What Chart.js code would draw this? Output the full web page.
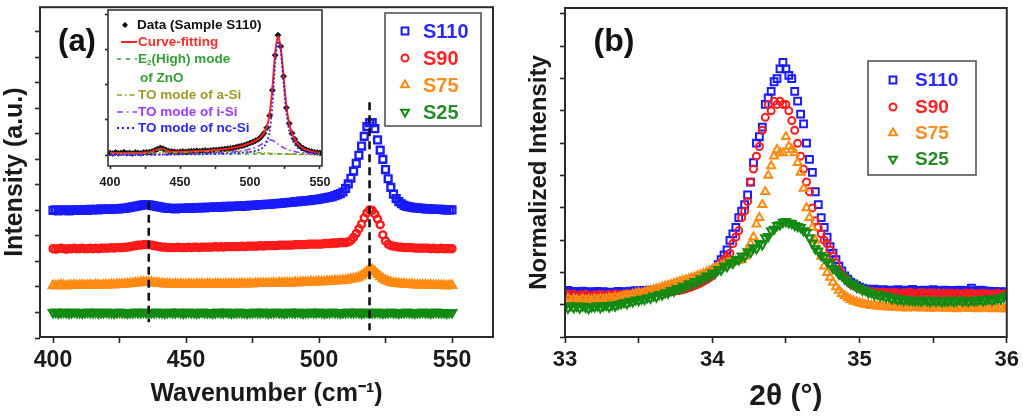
<!DOCTYPE html>
<html><head><meta charset="utf-8">
<script src="https://cdn.jsdelivr.net/npm/chart.js@4.4.1/dist/chart.umd.min.js"></script>
<style>
html,body{margin:0;padding:0;background:#fff;width:1023px;height:417px;overflow:hidden}
canvas{position:absolute;left:0;top:0}
</style></head><body>
<canvas id="ca" width="1023" height="417"></canvas>
<canvas id="ci" width="1023" height="417"></canvas>
<canvas id="cb" width="1023" height="417"></canvas>
<script>
// ---------- Panel (a): Raman spectra ----------
const ramanX = [
400,401,402,403,404,405,406,407,408,409,
410,411,412,413,414,415,416,417,418,419,
420,421,422,423,424,425,426,427,428,429,
430,431,432,433,434,435,436,437,438,439,
440,441,442,443,444,445,446,447,448,449,
450,451,452,453,454,455,456,457,458,459,
460,461,462,463,464,465,466,467,468,469,
470,471,472,473,474,475,476,477,478,479,
480,481,482,483,484,485,486,487,488,489,
490,491,492,493,494,495,496,497,498,499,
500,501,502,503,504,505,506,507,508,509,
510,511,512,513,514,515,516,517,518,519,
520,521,522,523,524,525,526,527,528,529,
530,531,532,533,534,535,536,537,538,539,
540,541,542,543,544,545,546,547,548,549,
550];
const ramanS110 = [
2.00,2.01,1.99,2.00,2.01,2.00,1.99,2.01,2.00,2.01,
2.00,2.01,2.01,2.00,2.02,2.01,2.02,2.01,2.03,2.02,
2.02,2.03,2.02,2.03,2.03,2.03,2.04,2.04,2.05,2.06,
2.07,2.08,2.09,2.10,2.11,2.11,2.11,2.10,2.09,2.08,
2.07,2.06,2.05,2.04,2.04,2.04,2.03,2.04,2.04,2.04,
2.04,2.05,2.04,2.05,2.05,2.05,2.06,2.05,2.06,2.06,
2.06,2.07,2.06,2.07,2.07,2.08,2.07,2.08,2.08,2.08,
2.09,2.08,2.09,2.09,2.10,2.10,2.10,2.11,2.11,2.11,
2.12,2.12,2.12,2.13,2.13,2.14,2.14,2.15,2.15,2.16,
2.16,2.17,2.17,2.18,2.18,2.19,2.19,2.20,2.21,2.21,
2.22,2.23,2.24,2.25,2.26,2.27,2.29,2.31,2.33,2.36,
2.43,2.52,2.63,2.77,2.92,3.08,3.26,3.45,3.64,3.72,
3.72,3.60,3.38,3.18,3.00,2.80,2.62,2.45,2.32,2.23,
2.17,2.13,2.10,2.08,2.07,2.06,2.05,2.05,2.04,2.04,
2.03,2.03,2.03,2.02,2.02,2.02,2.02,2.01,2.01,2.01,
2.01];
const ramanS90 = [
1.25,1.24,1.25,1.26,1.25,1.24,1.25,1.25,1.26,1.25,
1.25,1.26,1.25,1.25,1.26,1.25,1.26,1.25,1.26,1.26,
1.26,1.26,1.27,1.26,1.27,1.27,1.27,1.28,1.28,1.29,
1.30,1.31,1.32,1.32,1.33,1.33,1.33,1.32,1.31,1.30,
1.29,1.28,1.28,1.27,1.27,1.27,1.27,1.28,1.27,1.27,
1.27,1.28,1.27,1.28,1.28,1.27,1.28,1.28,1.28,1.28,
1.28,1.29,1.28,1.29,1.28,1.29,1.29,1.29,1.29,1.29,
1.29,1.30,1.29,1.30,1.30,1.30,1.30,1.30,1.31,1.30,
1.31,1.31,1.31,1.31,1.31,1.32,1.32,1.32,1.32,1.32,
1.32,1.33,1.33,1.33,1.33,1.33,1.34,1.34,1.34,1.34,
1.34,1.34,1.35,1.35,1.35,1.36,1.36,1.36,1.37,1.37,
1.37,1.38,1.41,1.47,1.55,1.64,1.73,1.85,1.95,2.01,
2.00,1.93,1.83,1.72,1.52,1.40,1.34,1.31,1.30,1.29,
1.28,1.28,1.27,1.27,1.27,1.27,1.26,1.26,1.26,1.26,
1.26,1.26,1.25,1.26,1.25,1.25,1.26,1.25,1.25,1.25,
1.25];
const ramanS75 = [
0.53,0.52,0.53,0.54,0.53,0.52,0.53,0.53,0.54,0.53,
0.53,0.54,0.53,0.53,0.54,0.53,0.54,0.54,0.53,0.54,
0.54,0.54,0.55,0.54,0.55,0.55,0.55,0.56,0.56,0.57,
0.57,0.58,0.58,0.59,0.59,0.59,0.59,0.59,0.58,0.58,
0.57,0.57,0.56,0.56,0.56,0.55,0.56,0.55,0.56,0.55,
0.55,0.56,0.55,0.55,0.56,0.55,0.56,0.55,0.56,0.56,
0.55,0.56,0.56,0.56,0.55,0.56,0.56,0.56,0.56,0.56,
0.56,0.57,0.56,0.56,0.57,0.56,0.57,0.57,0.57,0.57,
0.57,0.57,0.57,0.58,0.57,0.58,0.58,0.58,0.58,0.58,
0.58,0.59,0.58,0.59,0.59,0.59,0.59,0.60,0.59,0.60,
0.60,0.60,0.60,0.61,0.61,0.61,0.62,0.62,0.62,0.63,
0.63,0.64,0.65,0.66,0.67,0.69,0.72,0.76,0.80,0.84,
0.84,0.80,0.75,0.70,0.66,0.63,0.61,0.59,0.58,0.57,
0.57,0.56,0.56,0.55,0.55,0.55,0.54,0.54,0.54,0.54,
0.54,0.53,0.54,0.53,0.53,0.53,0.53,0.53,0.52,0.53,
0.53];
const ramanS25 = [
0.00,0.01,-0.01,0.00,0.01,0.00,-0.01,0.00,0.01,0.00,
0.00,-0.01,0.00,0.01,0.00,0.00,0.01,-0.01,0.00,0.00,
0.01,0.00,0.00,-0.01,0.00,0.01,0.00,0.00,-0.01,0.00,
0.00,0.01,0.00,0.00,0.01,0.00,-0.01,0.00,0.00,0.01,
0.00,0.00,-0.01,0.00,0.01,0.00,0.00,0.01,0.00,-0.01,
0.00,0.01,0.00,0.00,-0.01,0.00,0.01,0.00,0.00,0.00,
-0.01,0.00,0.01,0.00,0.00,0.01,0.00,-0.01,0.00,0.00,
0.01,0.00,0.00,-0.01,0.00,0.00,0.01,0.00,0.00,0.01,
0.00,-0.01,0.00,0.00,0.01,0.00,0.00,-0.01,0.00,0.01,
0.00,0.00,0.01,0.00,-0.01,0.00,0.00,0.01,0.00,0.00,
0.01,0.00,-0.01,0.00,0.00,0.01,0.00,0.00,-0.01,0.00,
0.00,0.01,0.00,0.00,0.01,0.00,-0.01,0.00,0.01,0.00,
0.00,0.00,0.01,0.00,-0.01,0.00,0.00,0.01,0.00,0.00,
-0.01,0.00,0.00,0.01,0.00,0.00,-0.01,0.00,0.00,0.01,
0.00,0.00,-0.01,0.00,0.01,0.00,0.00,0.00,-0.01,0.00,
0.00];
// dashed guide lines (wavenumber, top, bottom)
const guideX = [436, 519];
const guideTop = [2.17, 4.12];
const guideBottom = [-0.19, -0.35];
const ramanTickValues = [400,425,450,475,500,525,550];
const ramanTickLabels = ['400','','450','','500','','550'];
const ramanYTicks = [-0.5,0,0.5,1,1.5,2,2.5,3,3.5,4,4.5,5,5.5];

// ---------- Inset: S110 fitting ----------
const insetX = [
400,402,404,406,408,410,412,414,416,418,
420,422,424,426,428,430,432,434,436,438,
440,442,444,446,448,450,452,454,456,458,
460,462,464,466,468,470,472,474,476,478,
480,482,484,486,488,490,492,494,496,498,
500,502,504,506,508,510,512,514,516,518,
520,522,524,526,528,530,532,534,536,538,
540,542,544,546,548,550];
const insetData = [
.06,.04,.07,.05,.06,.08,.05,.06,.04,.07,
.06,.05,.07,.08,.08,.10,.13,.17,.20,.18,
.14,.11,.10,.09,.08,.09,.10,.09,.10,.11,
.11,.12,.11,.12,.13,.12,.13,.14,.14,.15,
.16,.17,.18,.19,.20,.22,.24,.26,.28,.31,
.34,.37,.41,.45,.52,.62,.78,1.12,1.85,2.85,
3.42,3.10,2.25,1.35,.90,.62,.45,.32,.24,.19,
.15,.12,.10,.08,.07,.06];
const insetFit = [
.06,.06,.06,.06,.06,.06,.06,.06,.06,.06,
.06,.06,.07,.07,.08,.10,.13,.16,.18,.17,
.14,.11,.10,.09,.09,.09,.09,.10,.10,.10,
.11,.11,.12,.12,.12,.13,.13,.14,.14,.15,
.16,.17,.18,.19,.20,.22,.24,.26,.28,.31,
.34,.37,.41,.46,.53,.63,.80,1.15,1.90,2.90,
3.38,3.05,2.22,1.38,.90,.62,.44,.32,.24,.19,
.15,.12,.10,.08,.07,.06];
const insetE2ZnO = [
.03,.03,.03,.03,.03,.03,.03,.03,.03,.03,
.03,.03,.04,.04,.05,.07,.10,.13,.15,.13,
.10,.07,.05,.04,.04,.03,.03,.03,.03,.03,
.03,.03,.03,.03,.03,.03,.03,.03,.03,.03,
.03,.03,.03,.03,.03,.03,.03,.03,.03,.03,
.03,.03,.03,.03,.03,.03,.03,.03,.03,.03,
.03,.03,.03,.03,.03,.03,.03,.03,.03,.03,
.03,.03,.03,.03,.03,.03];
const insetASi = [
.02,.02,.02,.02,.03,.03,.03,.03,.03,.04,
.04,.04,.04,.05,.05,.05,.05,.06,.06,.06,
.06,.07,.07,.07,.07,.08,.08,.08,.08,.09,
.09,.09,.09,.10,.10,.10,.10,.10,.10,.10,
.10,.10,.10,.10,.10,.10,.10,.09,.09,.09,
.08,.08,.07,.07,.06,.06,.05,.05,.04,.04,
.03,.03,.03,.02,.02,.02,.02,.02,.01,.01,
.01,.01,.01,.01,.01,.01];
const insetISi = [
.01,.01,.01,.01,.01,.01,.01,.01,.01,.01,
.01,.01,.01,.01,.01,.01,.01,.01,.01,.01,
.01,.01,.01,.02,.02,.02,.02,.02,.02,.03,
.03,.03,.03,.04,.04,.04,.05,.05,.05,.06,
.06,.07,.07,.08,.09,.10,.11,.12,.13,.15,
.17,.19,.22,.26,.30,.35,.40,.43,.42,.37,
.31,.26,.21,.17,.14,.12,.10,.08,.07,.06,
.05,.04,.04,.03,.03,.03];
const insetNcSi = [
.01,.01,.01,.01,.01,.01,.01,.01,.01,.01,
.01,.01,.01,.01,.01,.01,.01,.01,.01,.01,
.01,.01,.01,.01,.01,.02,.02,.02,.02,.02,
.02,.02,.02,.02,.02,.03,.03,.03,.03,.03,
.03,.04,.04,.04,.05,.05,.06,.06,.07,.08,
.09,.10,.12,.14,.18,.24,.36,.65,1.40,2.60,
3.25,2.95,2.05,1.20,.70,.45,.30,.21,.15,.12,
.10,.08,.07,.06,.05,.04];
const insetTickValues = [400,425,450,475,500,525,550];
const insetTickLabels = ['400','','450','','500','','550'];
const insetYTicks = [0,1,2,3,4];

// ---------- Panel (b): XRD ----------
const xrdX = [
33.00,33.02,33.04,33.06,33.08,33.10,33.12,33.14,33.16,33.18,
33.20,33.22,33.24,33.26,33.28,33.30,33.32,33.34,33.36,33.38,
33.40,33.42,33.44,33.46,33.48,33.50,33.52,33.54,33.56,33.58,
33.60,33.62,33.64,33.66,33.68,33.70,33.72,33.74,33.76,33.78,
33.80,33.82,33.84,33.86,33.88,33.90,33.92,33.94,33.96,33.98,
34.00,34.02,34.04,34.06,34.08,34.10,34.12,34.14,34.16,34.18,
34.20,34.22,34.24,34.26,34.28,34.30,34.32,34.34,34.36,34.38,
34.40,34.42,34.44,34.46,34.48,34.50,34.52,34.54,34.56,34.58,
34.60,34.62,34.64,34.66,34.68,34.70,34.72,34.74,34.76,34.78,
34.80,34.82,34.84,34.86,34.88,34.90,34.92,34.94,34.96,34.98,
35.00,35.02,35.04,35.06,35.08,35.10,35.12,35.14,35.16,35.18,
35.20,35.22,35.24,35.26,35.28,35.30,35.32,35.34,35.36,35.38,
35.40,35.42,35.44,35.46,35.48,35.50,35.52,35.54,35.56,35.58,
35.60,35.62,35.64,35.66,35.68,35.70,35.72,35.74,35.76,35.78,
35.80,35.82,35.84,35.86,35.88,35.90,35.92,35.94,35.96,35.98,
36.00];
const xrdS110 = [
0.040,0.045,0.038,0.042,0.040,0.036,0.043,0.040,0.038,0.041,
0.039,0.042,0.037,0.041,0.038,0.040,0.036,0.039,0.042,0.040,
0.041,0.038,0.043,0.040,0.044,0.041,0.045,0.042,0.046,0.044,
0.045,0.047,0.044,0.048,0.046,0.049,0.047,0.050,0.049,0.051,
0.052,0.055,0.058,0.060,0.065,0.070,0.075,0.080,0.085,0.090,
0.100,0.110,0.125,0.140,0.155,0.170,0.200,0.220,0.240,0.270,
0.290,0.310,0.340,0.380,0.440,0.500,0.520,0.550,0.620,0.640,
0.660,0.690,0.700,0.730,0.750,0.730,0.710,0.700,0.660,0.630,
0.590,0.560,0.500,0.450,0.410,0.350,0.310,0.270,0.240,0.210,
0.180,0.160,0.140,0.120,0.105,0.090,0.080,0.070,0.065,0.060,
0.055,0.052,0.050,0.048,0.047,0.049,0.046,0.045,0.047,0.044,
0.046,0.043,0.045,0.047,0.044,0.046,0.043,0.045,0.048,0.044,
0.045,0.042,0.046,0.044,0.043,0.047,0.045,0.042,0.044,0.046,
0.043,0.045,0.041,0.044,0.046,0.042,0.045,0.043,0.052,0.044,
0.042,0.046,0.044,0.041,0.043,0.040,0.042,0.039,0.041,0.040,
0.040];
const xrdS90 = [
0.030,0.034,0.028,0.032,0.029,0.031,0.027,0.033,0.030,0.028,
0.031,0.029,0.033,0.030,0.027,0.032,0.030,0.034,0.031,0.029,
0.032,0.035,0.031,0.034,0.033,0.036,0.034,0.037,0.035,0.038,
0.036,0.039,0.038,0.040,0.039,0.042,0.041,0.043,0.044,0.046,
0.047,0.050,0.053,0.056,0.060,0.064,0.068,0.073,0.078,0.084,
0.090,0.100,0.115,0.130,0.140,0.150,0.160,0.190,0.210,0.230,
0.270,0.290,0.320,0.380,0.420,0.460,0.490,0.540,0.580,0.620,
0.600,0.630,0.620,0.630,0.620,0.620,0.600,0.570,0.540,0.500,
0.460,0.420,0.380,0.350,0.300,0.260,0.240,0.220,0.200,0.190,
0.170,0.150,0.130,0.110,0.095,0.085,0.075,0.065,0.060,0.055,
0.050,0.047,0.045,0.043,0.041,0.040,0.039,0.038,0.040,0.037,
0.038,0.036,0.039,0.037,0.035,0.038,0.036,0.039,0.037,0.035,
0.037,0.039,0.036,0.034,0.038,0.036,0.035,0.037,0.034,0.036,
0.035,0.037,0.034,0.036,0.033,0.035,0.037,0.034,0.036,0.033,
0.035,0.034,0.036,0.033,0.035,0.032,0.034,0.036,0.033,0.035,
0.034];
const xrdS75 = [
0.015,0.020,0.012,0.018,0.016,0.013,0.019,0.015,0.017,0.014,
0.018,0.016,0.020,0.017,0.019,0.022,0.020,0.024,0.022,0.026,
0.028,0.030,0.029,0.033,0.035,0.038,0.036,0.040,0.042,0.044,
0.047,0.050,0.052,0.055,0.058,0.060,0.063,0.066,0.069,0.072,
0.075,0.078,0.080,0.083,0.086,0.090,0.093,0.097,0.101,0.105,
0.110,0.114,0.118,0.122,0.126,0.130,0.132,0.134,0.136,0.138,
0.140,0.150,0.170,0.190,0.210,0.250,0.270,0.310,0.350,0.400,
0.430,0.460,0.480,0.470,0.470,0.520,0.490,0.480,0.470,0.440,
0.410,0.360,0.300,0.270,0.240,0.200,0.170,0.150,0.120,0.100,
0.085,0.070,0.056,0.045,0.035,0.028,0.022,0.016,0.012,0.009,
0.006,0.004,0.002,0.000,-0.002,0.000,-0.004,-0.003,-0.005,-0.006,
-0.007,-0.005,-0.008,-0.006,-0.009,-0.007,-0.010,-0.008,-0.006,-0.009,
-0.008,-0.010,-0.007,-0.009,-0.011,-0.008,-0.010,-0.007,-0.009,-0.011,
-0.009,-0.007,-0.010,-0.012,-0.008,-0.010,-0.009,-0.011,-0.008,-0.010,
-0.012,-0.009,-0.011,-0.008,-0.010,-0.012,-0.009,-0.011,-0.010,-0.013,
-0.008];
const xrdS25 = [
-0.005,-0.010,-0.002,-0.008,-0.004,-0.009,-0.003,-0.007,-0.011,-0.005,
-0.006,-0.002,-0.008,-0.004,-0.001,-0.006,0.000,-0.003,0.002,0.004,
0.008,0.004,0.012,0.010,0.016,0.014,0.019,0.017,0.023,0.021,
0.028,0.025,0.033,0.031,0.038,0.037,0.045,0.043,0.051,0.050,
0.058,0.056,0.066,0.063,0.073,0.071,0.081,0.080,0.090,0.089,
0.099,0.098,0.110,0.108,0.121,0.119,0.131,0.129,0.141,0.140,
0.152,0.150,0.165,0.162,0.177,0.174,0.190,0.186,0.208,0.212,
0.230,0.234,0.246,0.248,0.256,0.258,0.254,0.252,0.246,0.243,
0.240,0.230,0.224,0.208,0.192,0.174,0.167,0.153,0.147,0.133,
0.127,0.113,0.108,0.095,0.091,0.080,0.077,0.066,0.064,0.055,
0.054,0.046,0.046,0.038,0.039,0.032,0.034,0.028,0.030,0.024,
0.026,0.019,0.022,0.016,0.019,0.014,0.017,0.014,0.015,0.013,
0.014,0.012,0.016,0.013,0.011,0.015,0.012,0.014,0.010,0.013,
0.012,0.015,0.011,0.013,0.016,0.012,0.014,0.011,0.015,0.013,
0.014,0.017,0.013,0.016,0.019,0.015,0.018,0.021,0.019,0.024,
0.030];
const xrdTickValues = [33,33.5,34,34.5,35,35.5,36];
const xrdTickLabels = ['33','','34','','35','','36'];
const xrdYTicks = [-0.1,0,0.1,0.2,0.3,0.4,0.5,0.6,0.7,0.8,0.9];

// ---------- series names & colours ----------
const seriesNames = ['S110','S90','S75','S25'];
const seriesColors = ['#1a1aff','#ff1a1a','#ff8a12','#138a13'];
const legendTextColors = ['#2a2aff','#ff2222','#ff8c1e','#2a8a2a'];
const seriesStyles = ['rect','circle','triangle','triangle'];
const seriesRot = [0,0,0,180];
const seriesRadius = [4.8,3.5,4.6,4.6];

const FONT = "'Liberation Sans', Arial, Helvetica, sans-serif";
const INK = '#1a1a1a';

function pts(xs, ys){ return xs.map((x,i)=>({x:x, y:ys[i]})); }
function setTicks(values){ return function(s){ s.ticks = values.map(v=>({value:v})); }; }
function labelFor(values, labels){ return function(v){ const i = values.indexOf(v); return i>=0 ? labels[i] : ''; }; }
function markerDs(k, xs, ys, bw){
  return {label:seriesNames[k], data:pts(xs,ys), showLine:false,
    pointStyle:seriesStyles[k], pointRotation:seriesRot[k], pointRadius:seriesRadius[k],
    pointBorderWidth:bw, pointBorderColor:seriesColors[k], pointBackgroundColor:'rgba(0,0,0,0)',
    borderColor:seriesColors[k], backgroundColor:'rgba(0,0,0,0)', order:3-k};
}
const framePlugin = {
  id:'frame',
  beforeDraw(chart, args, o){
    if(o && o.fill){ const a=chart.chartArea; chart.ctx.save(); chart.ctx.fillStyle=o.fill; chart.ctx.fillRect(a.left,a.top,a.right-a.left,a.bottom-a.top); chart.ctx.restore(); }
  },
  afterDraw(chart, args, o){
    const {ctx, chartArea:a} = chart;
    ctx.save(); ctx.strokeStyle = o.color || '#222'; ctx.lineWidth = o.width || 2;
    ctx.strokeRect(a.left, a.top, a.right-a.left, a.bottom-a.top);
    ctx.restore();
  }
};
function drawMarkerLegend(ctx, box, rows, mx, tx, fontSize){
  ctx.save();
  ctx.strokeStyle = '#555'; ctx.lineWidth = 1.6;
  ctx.strokeRect(box[0], box[1], box[2], box[3]);
  for(let k=0;k<4;k++){
    ctx.strokeStyle = seriesColors[k]; ctx.fillStyle='rgba(0,0,0,0)'; ctx.lineWidth = 2;
    Chart.helpers.drawPoint(ctx, {pointStyle:seriesStyles[k], rotation:seriesRot[k], radius:seriesRadius[k], borderWidth:2}, mx, rows[k]);
    ctx.fillStyle = legendTextColors[k];
    ctx.font = 'bold '+fontSize+'px '+FONT; ctx.textBaseline='middle'; ctx.textAlign='left';
    ctx.fillText(seriesNames[k], tx, rows[k]+1);
  }
  ctx.restore();
}
function axis(min, max, ticks, labelValues, labelTexts, fontSize, tickLen, pad, extra){
  return Object.assign({type:'linear', min:min, max:max, afterBuildTicks:setTicks(ticks),
    ticks:{callback:labelFor(labelValues,labelTexts), autoSkip:false, maxRotation:0, padding:pad, color:INK,
      font:{family:FONT, size:fontSize, weight:'bold'}},
    grid:{drawOnChartArea:false, drawTicks:true, tickLength:tickLen, tickColor:'#222', tickWidth:1.6},
    border:{display:false}}, extra);
}
function ttl(text, size, pad){ return {display:true, text:text, color:INK, font:{family:FONT, size:size, weight:'bold', lineHeight:1.2}, padding:pad}; }
const base = {responsive:false, animation:false, devicePixelRatio:1, events:[],
  plugins:{legend:{display:false}, tooltip:{enabled:false}}};

// ---- Chart (a)
const dsA = [markerDs(0,ramanX,ramanS110,2.4), markerDs(1,ramanX,ramanS90,2.4), markerDs(2,ramanX,ramanS75,2.4), markerDs(3,ramanX,ramanS25,2.4)];
guideX.forEach((gx,i)=>{
  dsA.push({type:'line', data:[{x:gx,y:guideTop[i]},{x:gx,y:guideBottom[i]}], borderColor:'#111', borderWidth:2.6, borderDash:[8,5], pointRadius:0, fill:false, order:-1});
});
new Chart(document.getElementById('ca'), {
  type:'scatter',
  data:{datasets:dsA},
  options:Object.assign({}, base, {
    layout:{padding:{left:0, top:3, right:530, bottom:0}},
    plugins:{legend:{display:false}, tooltip:{enabled:false}, frame:{color:'#2a2a2a', width:2}},
    scales:{
      x: axis(395.11, 565.41, ramanTickValues, ramanTickValues, ramanTickLabels, 23, 6, 4,
        {afterFit:s=>{s.height=80;}, title:ttl('Wavenumber (cm\u207B\u00B9)', 25, {top:0,bottom:8})}),
      y: axis(-0.48, 5.98, ramanYTicks, [], [], 10, 5, 0,
        {afterFit:s=>{s.width=40;}, title:ttl('Intensity (a.u.)', 25, {top:0,bottom:0})})
    }
  }),
  plugins:[framePlugin, {id:'decoA', afterDraw(chart){
    const ctx = chart.ctx;
    drawMarkerLegend(ctx, [385,13,96,113], [31,58,85,112], 405, 423, 20);
    ctx.save(); ctx.fillStyle='#111'; ctx.font='bold 31px '+FONT; ctx.textAlign='center'; ctx.textBaseline='middle';
    ctx.fillText('(a)', 77, 42); ctx.restore();
  }}]
});

// ---- Inset
const lineDs = (data, color, width, dash, order) => ({type:'line', data:pts(insetX,data), borderColor:color, borderWidth:width, borderDash:dash, pointRadius:0, fill:false, tension:0.3, order:order});
new Chart(document.getElementById('ci'), {
  type:'scatter',
  data:{datasets:[
    {label:'Data', data:pts(insetX,insetData), showLine:false, pointStyle:'rectRot', pointRadius:3, pointBackgroundColor:'#111', pointBorderColor:'#111', pointBorderWidth:0.8, order:10},
    lineDs(insetFit, '#ff2020', 2, [], 5),
    lineDs(insetE2ZnO, '#2ea02e', 1.4, [4,4], 3),
    lineDs(insetASi, '#9a9a22', 1.4, [5,2,1.5,2], 2),
    lineDs(insetISi, '#9933ff', 1.6, [6,3,1.5,3], 1),
    lineDs(insetNcSi, '#2222ee', 1.8, [1.8,2.2], 0)
  ]},
  options:Object.assign({}, base, {
    layout:{padding:{left:88, top:10, right:701, bottom:211}},
    plugins:{legend:{display:false}, tooltip:{enabled:false}, frame:{color:'#333', width:1.6, fill:'#ffffff'}},
    scales:{
      x: axis(398.57, 551.43, insetTickValues, insetTickValues, insetTickLabels, 12.5, 3, 6, {afterFit:s=>{s.height=40;}}),
      y: axis(-0.314, 4.14, insetYTicks, [], [], 8, 3, 0, {afterFit:s=>{s.width=20;}})
    }
  }),
  plugins:[framePlugin, {id:'decoI', afterDraw(chart){
    const ctx = chart.ctx;
    ctx.save();
    ctx.textBaseline='middle'; ctx.textAlign='left';
    const f = 'bold 13.5px '+FONT;
    // Data
    ctx.fillStyle='#111';
    Chart.helpers.drawPoint(ctx, {pointStyle:'rectRot', radius:3, rotation:0, borderWidth:0}, 125, 25);
    ctx.font=f; ctx.fillText('Data (Sample S110)', 137, 25);
    // Curve-fitting
    ctx.strokeStyle='#ff2020'; ctx.lineWidth=2; ctx.setLineDash([]);
    ctx.beginPath(); ctx.moveTo(121,42); ctx.lineTo(137,42); ctx.stroke();
    ctx.fillStyle='#ff2a2a'; ctx.fillText('Curve-fitting', 138, 42);
    // E2(High)
    ctx.strokeStyle='#2ea02e'; ctx.lineWidth=1.6; ctx.setLineDash([4,5]);
    ctx.beginPath(); ctx.moveTo(117,59); ctx.lineTo(137,59); ctx.stroke();
    ctx.fillStyle='#33a033'; ctx.fillText('E', 138, 59);
    let w = ctx.measureText('E').width;
    ctx.font='bold 8px '+FONT; ctx.fillText('2', 138+w, 63);
    let w2 = ctx.measureText('2').width;
    ctx.font=f; ctx.fillText('(High) mode', 138+w+w2, 59);
    ctx.fillText('of ZnO', 140, 78);
    // a-Si
    ctx.strokeStyle='#9a9a22'; ctx.setLineDash([5,3,1.5,3]);
    ctx.beginPath(); ctx.moveTo(117,95); ctx.lineTo(137,95); ctx.stroke();
    ctx.fillStyle='#a09a2a'; ctx.fillText('TO mode of a-Si', 138, 95);
    // i-Si
    ctx.strokeStyle='#9933ff'; ctx.setLineDash([6,4,1.5,4]);
    ctx.beginPath(); ctx.moveTo(117,112); ctx.lineTo(137,112); ctx.stroke();
    ctx.fillStyle='#9a3cff'; ctx.fillText('TO mode of i-Si', 138, 112);
    // nc-Si
    ctx.strokeStyle='#2222ee'; ctx.lineWidth=2; ctx.setLineDash([2,3]);
    ctx.beginPath(); ctx.moveTo(117,128); ctx.lineTo(137,128); ctx.stroke();
    ctx.fillStyle='#2a2aee'; ctx.fillText('TO mode of nc-Si', 138, 128);
    ctx.restore();
  }}]
});

// ---- Chart (b)
new Chart(document.getElementById('cb'), {
  type:'scatter',
  data:{datasets:[markerDs(0,xrdX,xrdS110,2), markerDs(1,xrdX,xrdS90,2), markerDs(2,xrdX,xrdS75,2), markerDs(3,xrdX,xrdS25,2.2)]},
  options:Object.assign({}, base, {
    layout:{padding:{left:510, top:8, right:16, bottom:0}},
    plugins:{legend:{display:false}, tooltip:{enabled:false}, frame:{color:'#2a2a2a', width:2}},
    scales:{
      x: axis(33, 36, xrdTickValues, xrdTickValues, xrdTickLabels, 22, 6, 4,
        {afterFit:s=>{s.height=80;}, title:ttl('2\u03B8 (\u00B0)', 30, {top:0,bottom:2})}),
      y: axis(-0.099, 0.918, xrdYTicks, [], [], 10, 5, 0,
        {afterFit:s=>{s.width=55;}, title:ttl('Normalized Intensity', 24, {top:14.6,bottom:0})})
    }
  }),
  plugins:[framePlugin, {id:'decoB', afterDraw(chart){
    const ctx = chart.ctx;
    drawMarkerLegend(ctx, [868,61,108,114], [80,107,133,159], 893, 915, 19);
    ctx.save(); ctx.fillStyle='#111'; ctx.font='bold 32px '+FONT; ctx.textAlign='center'; ctx.textBaseline='middle';
    ctx.fillText('(b)', 614, 42); ctx.restore();
  }}]
});
</script>
</body></html>
